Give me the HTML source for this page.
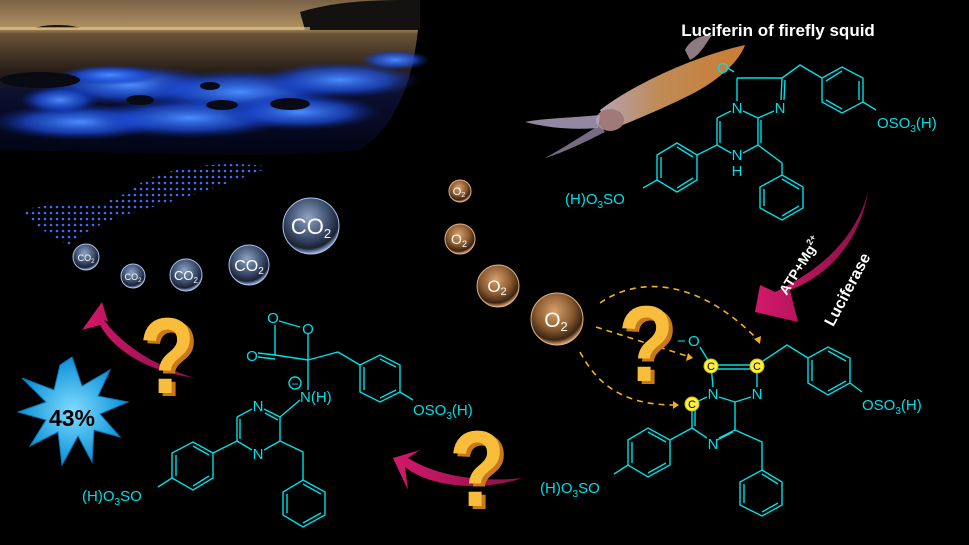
<!DOCTYPE html>
<html><head><meta charset="utf-8"><style>
html,body{margin:0;padding:0;background:#000;}
svg{display:block;}
</style></head><body>
<svg width="969" height="545" viewBox="0 0 969 545" xmlns="http://www.w3.org/2000/svg" font-family="Liberation Sans, Arial, sans-serif">
<defs>
<linearGradient id="sky" x1="0" y1="0" x2="0" y2="1">
<stop offset="0" stop-color="#7a6248"/><stop offset="0.18" stop-color="#b0905f"/><stop offset="0.22" stop-color="#6a5238"/><stop offset="0.45" stop-color="#2a2018"/><stop offset="0.6" stop-color="#0c1030"/><stop offset="1" stop-color="#020414"/>
</linearGradient>
<radialGradient id="glow" cx="0.5" cy="0.5" r="0.5">
<stop offset="0" stop-color="#4a8cff" stop-opacity="1"/><stop offset="0.6" stop-color="#1e50e0" stop-opacity="0.7"/><stop offset="1" stop-color="#0a2aa0" stop-opacity="0"/>
</radialGradient>
<radialGradient id="co2" cx="0.45" cy="0.35" r="0.65">
<stop offset="0" stop-color="#8fa3c4"/><stop offset="0.55" stop-color="#3f5070"/><stop offset="0.85" stop-color="#1a2233"/><stop offset="1" stop-color="#9fb8e0"/>
</radialGradient>
<radialGradient id="o2" cx="0.45" cy="0.35" r="0.65">
<stop offset="0" stop-color="#d9a06c"/><stop offset="0.55" stop-color="#8a5a30"/><stop offset="0.85" stop-color="#3a2412"/><stop offset="1" stop-color="#e0a878"/>
</radialGradient>
<linearGradient id="mag" x1="0" y1="0" x2="1" y2="0">
<stop offset="0" stop-color="#d4186a"/><stop offset="1" stop-color="#8a1048"/>
</linearGradient>
<linearGradient id="squid" x1="0" y1="0" x2="1" y2="0">
<stop offset="0" stop-color="#c9b5c8"/><stop offset="0.4" stop-color="#d49a60"/><stop offset="1" stop-color="#e08a3a"/>
</linearGradient>
<radialGradient id="star" cx="0.5" cy="0.5" r="0.5">
<stop offset="0" stop-color="#7fdcff"/><stop offset="1" stop-color="#0a8fd6"/>
</radialGradient>
<pattern id="dots" width="6" height="6" patternUnits="userSpaceOnUse">
<circle cx="3" cy="3" r="1.3" fill="#3a6cff"/>
</pattern>
</defs>
<rect width="969" height="545" fill="#000"/>
<!-- night photo -->
<path d="M0 0 H420 C418 60 405 120 360 150 C250 160 120 152 0 150 Z" fill="url(#sky)"/>
<path d="M300 12 C340 0 380 0 420 0 V30 H305 Z" fill="#141210"/>
<path d="M35 28 C45 24 70 24 80 28 Z" fill="#1a1410"/>
<rect x="0" y="27" width="310" height="3" fill="#f0d090" opacity="0.6"/>
<g fill="url(#glow)">
<ellipse cx="130" cy="85" rx="90" ry="20"/><ellipse cx="240" cy="92" rx="100" ry="22"/><ellipse cx="340" cy="80" rx="80" ry="18"/>
<ellipse cx="80" cy="122" rx="90" ry="18"/><ellipse cx="190" cy="118" rx="100" ry="20"/><ellipse cx="300" cy="112" rx="80" ry="18"/>
<ellipse cx="395" cy="60" rx="35" ry="10"/><ellipse cx="110" cy="75" rx="50" ry="10"/><ellipse cx="60" cy="100" rx="40" ry="14"/>
</g>
<g fill="#080a14"><ellipse cx="140" cy="100" rx="14" ry="5"/><ellipse cx="222" cy="105" rx="16" ry="5"/><ellipse cx="290" cy="104" rx="20" ry="6"/><ellipse cx="210" cy="86" rx="10" ry="4"/><ellipse cx="40" cy="80" rx="40" ry="8"/></g>
<path d="M360 150 C300 160 120 152 0 150 V160 H380 Z" fill="#000"/>
<!-- glowing squid -->
<path d="M130 190 C160 165 230 160 270 167 C240 180 180 200 135 212 Z" fill="url(#dots)"/>
<path d="M135 190 C120 195 110 200 100 205 C80 200 50 205 20 210 C30 220 50 238 70 245 C80 235 100 222 135 212 Z" fill="url(#dots)"/>
<!-- squid photo -->
<g>
<path d="M600 110 C640 80 700 55 745 45 C740 60 720 80 690 95 C660 110 630 122 610 130 Z" fill="url(#squid)" opacity="0.9"/>
<path d="M685 50 C690 40 700 35 712 35 C705 45 700 55 690 60 Z" fill="#c7b0b8" opacity="0.7"/>
<ellipse cx="610" cy="120" rx="14" ry="11" fill="#a07a78"/>
<path d="M600 115 C570 118 545 118 525 122 C550 128 570 130 598 128 Z" fill="#b8a8c8" opacity="0.8"/>
<path d="M600 125 C575 140 560 150 545 158 C565 152 585 142 605 132 Z" fill="#a898b8" opacity="0.7"/>
</g>
<!-- Title -->
<text x="778" y="36" fill="#fff" font-size="17" font-weight="bold" text-anchor="middle">Luciferin of firefly squid</text>

<g stroke="#00e0e8" stroke-width="1.4" fill="none">
<!-- Structure 1 -->
<line x1="737" y1="78" x2="782" y2="78"/><line x1="737" y1="78" x2="737" y2="101"/><line x1="782" y1="78" x2="781" y2="100"/><line x1="785" y1="80" x2="784" y2="100"/>
<line x1="743" y1="111" x2="758" y2="118"/><line x1="774" y1="111" x2="758" y2="118"/>
<line x1="731" y1="111" x2="717" y2="118"/><line x1="717" y1="118" x2="717" y2="145"/><line x1="720" y1="121" x2="720" y2="143"/>
<line x1="717" y1="145" x2="731" y2="153"/><line x1="743" y1="153" x2="758" y2="145"/><line x1="758" y1="118" x2="758" y2="145"/><line x1="761" y1="120" x2="761" y2="143"/>
<line x1="734" y1="72" x2="728" y2="68"/>
<polyline points="782,78 800,65 822,78"/>
<polygon points="822,78 842,67 863,78 863,102 842,113 822,102"/>
<line x1="826" y1="81" x2="842" y2="71"/><line x1="859" y1="81" x2="859" y2="100"/><line x1="826" y1="100" x2="842" y2="109"/>
<line x1="863" y1="102" x2="876" y2="110"/>
<polygon points="657,155 677,143 697,155 697,180 677,192 657,180"/>
<line x1="661" y1="157" x2="661" y2="178"/><line x1="677" y1="147" x2="693" y2="157"/><line x1="677" y1="188" x2="693" y2="178"/>
<line x1="697" y1="155" x2="717" y2="145"/><line x1="657" y1="180" x2="643" y2="188"/>
<polyline points="758,145 782,163 782,175"/>
<polygon points="782,175 803,187 803,208 782,220 760,208 760,187"/>
<line x1="782" y1="179" x2="799" y2="189"/><line x1="764" y1="189" x2="764" y2="206"/><line x1="782" y1="216" x2="799" y2="206"/>

<!-- Structure 2 -->
<line x1="711" y1="365" x2="757" y2="365"/><line x1="711" y1="369" x2="757" y2="369"/>
<line x1="711" y1="365" x2="713" y2="387"/><line x1="757" y1="365" x2="757" y2="387"/>
<line x1="711" y1="365" x2="700" y2="347"/>
<line x1="719" y1="397" x2="735" y2="402"/><line x1="751" y1="397" x2="735" y2="402"/>
<line x1="707" y1="397" x2="692" y2="404"/><line x1="692" y1="404" x2="692" y2="428"/><line x1="695" y1="406" x2="695" y2="426"/>
<line x1="692" y1="428" x2="707" y2="438"/><line x1="719" y1="438" x2="735" y2="430"/><line x1="717" y1="440" x2="733" y2="432"/><line x1="735" y1="402" x2="735" y2="430"/>
<polyline points="757,365 787,345 808,358"/>
<polygon points="808,358 828,347 850,358 850,383 828,395 808,383"/>
<line x1="812" y1="360" x2="812" y2="381"/><line x1="828" y1="351" x2="846" y2="361"/><line x1="828" y1="391" x2="846" y2="381"/>
<line x1="850" y1="383" x2="862" y2="392"/>
<polygon points="628,440 648,428 670,440 670,465 648,477 628,465"/>
<line x1="632" y1="442" x2="632" y2="463"/><line x1="648" y1="432" x2="666" y2="442"/><line x1="648" y1="473" x2="666" y2="463"/>
<line x1="670" y1="440" x2="692" y2="428"/><line x1="628" y1="465" x2="614" y2="474"/>
<polyline points="735,430 762,442 762,470"/>
<polygon points="762,470 782,482 782,505 762,516 740,505 740,482"/>
<line x1="762" y1="474" x2="778" y2="484"/><line x1="744" y1="484" x2="744" y2="503"/><line x1="762" y1="512" x2="778" y2="503"/>

<!-- Structure 3 -->
<line x1="279" y1="321" x2="300" y2="327"/><line x1="275" y1="325" x2="275" y2="355"/>
<line x1="308" y1="334" x2="308" y2="390"/>
<line x1="275" y1="355" x2="308" y2="360"/><line x1="258" y1="353" x2="275" y2="355"/><line x1="258" y1="357" x2="275" y2="359"/>
<polyline points="308,360 338,352 360,365"/>
<polygon points="360,365 380,355 400,365 400,392 380,402 360,392"/>
<line x1="364" y1="367" x2="364" y2="390"/><line x1="380" y1="359" x2="396" y2="367"/><line x1="380" y1="398" x2="396" y2="390"/>
<line x1="400" y1="392" x2="413" y2="400"/>
<line x1="300" y1="400" x2="280" y2="417"/>
<line x1="264" y1="409" x2="280" y2="417"/><line x1="265" y1="413" x2="278" y2="420"/><line x1="280" y1="417" x2="280" y2="441"/><line x1="280" y1="441" x2="264" y2="450"/>
<line x1="252" y1="409" x2="237" y2="417"/><line x1="237" y1="417" x2="237" y2="441"/><line x1="240" y1="419" x2="240" y2="439"/><line x1="237" y1="441" x2="252" y2="450"/>
<polygon points="213,453 193,442 172,453 172,478 193,490 213,478"/>
<line x1="176" y1="455" x2="176" y2="476"/><line x1="193" y1="446" x2="209" y2="455"/><line x1="193" y1="486" x2="209" y2="476"/>
<line x1="213" y1="453" x2="237" y2="441"/><line x1="172" y1="478" x2="158" y2="487"/>
<polyline points="280,441 303,452 303,480"/>
<polygon points="303,480 325,492 325,515 303,527 283,515 283,492"/>
<line x1="303" y1="484" x2="321" y2="494"/><line x1="287" y1="494" x2="287" y2="513"/><line x1="303" y1="523" x2="321" y2="513"/>
<circle cx="295" cy="383" r="6"/>
</g>
<g fill="#00e0e8" font-size="15">
<text x="723" y="73" text-anchor="middle">O</text>
<text x="737" y="113" text-anchor="middle">N</text>
<text x="780" y="113" text-anchor="middle">N</text>
<text x="737" y="160" text-anchor="middle">N</text>
<text x="737" y="176" text-anchor="middle">H</text>
<text x="877" y="128">OSO<tspan font-size="10" dy="4">3</tspan><tspan dy="-4">(H)</tspan></text>
<text x="565" y="204">(H)O<tspan font-size="10" dy="4">3</tspan><tspan dy="-4">SO</tspan></text>
<text x="677" y="346">−</text><text x="688" y="346">O</text>
<text x="713" y="399" text-anchor="middle">N</text>
<text x="757" y="399" text-anchor="middle">N</text>
<text x="713" y="449" text-anchor="middle">N</text>
<text x="862" y="410">OSO<tspan font-size="10" dy="4">3</tspan><tspan dy="-4">(H)</tspan></text>
<text x="540" y="493">(H)O<tspan font-size="10" dy="4">3</tspan><tspan dy="-4">SO</tspan></text>
<text x="273" y="323" text-anchor="middle">O</text>
<text x="308" y="334" text-anchor="middle">O</text>
<text x="252" y="361" text-anchor="middle">O</text>
<text x="300" y="402">N(H)</text>
<text x="258" y="411" text-anchor="middle">N</text>
<text x="258" y="459" text-anchor="middle">N</text>
<text x="413" y="415">OSO<tspan font-size="10" dy="4">3</tspan><tspan dy="-4">(H)</tspan></text>
<text x="82" y="501">(H)O<tspan font-size="10" dy="4">3</tspan><tspan dy="-4">SO</tspan></text>
<text x="295" y="388" text-anchor="middle" font-size="12">−</text>
</g>
<!-- yellow C markers -->
<g fill="#ffef40" stroke="#d8c000" stroke-width="1"><circle cx="711" cy="366" r="7"/><circle cx="757" cy="366" r="7"/><circle cx="692" cy="404" r="7"/></g>
<g fill="#000" font-size="11" text-anchor="middle"><text x="711" y="370">C</text><text x="757" y="370">C</text><text x="692" y="408">C</text></g>

<!-- dashed arrows -->
<g stroke="#f2b01e" stroke-width="1.6" fill="none" stroke-dasharray="6,5">
<path d="M600 303 C640 275 700 280 758 340"/>
<path d="M596 327 L690 357"/>
<path d="M580 352 C600 390 630 405 675 405"/>
</g>
<g fill="#f2b01e"><path d="M754 339 L760 344 L761 336 Z"/><path d="M688 353 L693 358 L686 361 Z"/><path d="M673 401 L679 405 L673 409 Z"/></g>

<!-- magenta arrows -->
<path d="M868 192 C860 240 830 275 790 290 L798 322 L755 312 L760 285 L775 292 C820 270 855 240 868 192 Z" fill="url(#mag)"/>
<path d="M195 378 C150 372 115 352 100 325 L82 330 L102 302 L108 322 L104 320 C122 345 155 366 195 378 Z" fill="url(#mag)"/>
<path d="M523 478 C480 492 430 487 405 467 L408 490 L393 458 L420 450 L408 458 C440 478 485 482 523 478 Z" fill="url(#mag)"/>

<!-- ATP / Luciferase -->
<text transform="translate(804,268) rotate(-58)" fill="#fff" font-size="14" font-weight="bold" text-anchor="middle">ATP+Mg<tspan font-size="9" dy="-6">2+</tspan></text>
<text transform="translate(852,292) rotate(-62)" fill="#fff" font-size="16" font-weight="bold" text-anchor="middle">Luciferase</text>

<!-- question marks -->
<g font-weight="bold" font-size="108" text-anchor="middle">
<text transform="translate(171,396) scale(0.85,1)" fill="#c9791a">?</text>
<text transform="translate(167,393) scale(0.85,1)" fill="#f8bd3a">?</text>
<text transform="translate(481,509) scale(0.85,1)" fill="#c9791a">?</text>
<text transform="translate(477,506) scale(0.85,1)" fill="#f8bd3a">?</text>
<text transform="translate(650,384) scale(0.85,1)" fill="#c9791a">?</text>
<text transform="translate(646,381) scale(0.85,1)" fill="#f8bd3a">?</text>
</g>

<!-- star -->
<polygon fill="url(#star)" stroke="#0878b8" stroke-width="1" points="72,357 82,386 110,370 98,396 128,402 100,414 120,437 94,430 92,462 78,436 62,465 58,432 30,446 46,420 18,412 46,402 22,378 54,390 60,365"/>
<text x="72" y="426" font-size="23" font-weight="bold" fill="#000" text-anchor="middle">43%</text>

<!-- CO2 bubbles -->
<g stroke="#a8c4f0" stroke-width="1" fill="url(#co2)">
<circle cx="86" cy="257" r="13"/><circle cx="133" cy="276" r="12"/><circle cx="186" cy="275" r="16"/><circle cx="249" cy="265" r="20"/><circle cx="311" cy="226" r="28"/>
</g>
<g fill="#fff" text-anchor="middle">
<text x="86" y="261" font-size="9">CO<tspan font-size="6" dy="2">2</tspan></text>
<text x="133" y="280" font-size="9">CO<tspan font-size="6" dy="2">2</tspan></text>
<text x="186" y="280" font-size="13">CO<tspan font-size="8" dy="3">2</tspan></text>
<text x="249" y="271" font-size="16">CO<tspan font-size="10" dy="3">2</tspan></text>
<text x="311" y="234" font-size="22">CO<tspan font-size="13" dy="4">2</tspan></text>
</g>
<g stroke="#e8b080" stroke-width="1" fill="url(#o2)">
<circle cx="460" cy="191" r="11"/><circle cx="460" cy="239" r="15"/><circle cx="498" cy="286" r="21"/><circle cx="557" cy="319" r="26"/>
</g>
<g fill="#fff" text-anchor="middle">
<text x="459" y="195" font-size="11">O<tspan font-size="7" dy="2">2</tspan></text>
<text x="459" y="244" font-size="14">O<tspan font-size="9" dy="3">2</tspan></text>
<text x="497" y="292" font-size="17">O<tspan font-size="11" dy="3">2</tspan></text>
<text x="556" y="327" font-size="21">O<tspan font-size="13" dy="4">2</tspan></text>
</g>
</svg>
</body></html>
